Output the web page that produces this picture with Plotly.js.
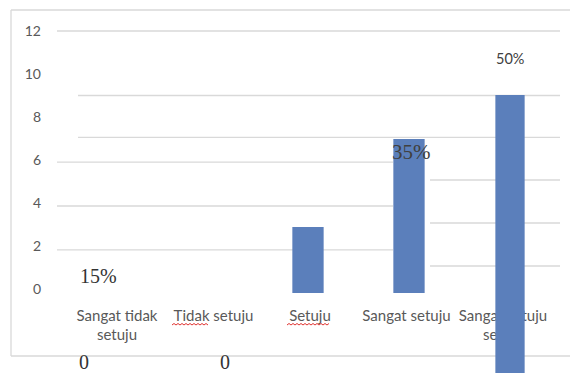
<!DOCTYPE html>
<html>
<head>
<meta charset="utf-8">
<script src="https://cdn.plot.ly/plotly-3.0.1.min.js"></script>
<style>
  html, body { margin: 0; padding: 0; background: #fff; }
  #chart { width: 570px; height: 373px; }
</style>
</head>
<body>
<div id="chart"></div>
<script>
// Survey answers and their counts
const categories = ['Sangat tidak<br>setuju', 'Tidak setuju', 'Setuju', 'Sangat setuju', 'Sangat setuju<br>setuju'];
const counts = [0, 0, 3, 7, 9];
// part of the last bar that runs below the baseline
const spill = [0, 0, 0, 0, -4.5];
const percentLabels = ['0', '0', '15%', '35%', '50%'];
const yTicks = [0, 2, 4, 6, 8, 10, 12];

const W = 570, H = 373, L = 57, R = 10;
const plotW = W - L - R;
const px = x => (x - L) / plotW;      // pixel column -> paper x
const py = y => 1 - y / H;            // pixel row -> paper y

const idx = categories.map((_, i) => i);
const barColor = '#5b7fbb';
const grid = '#d9d9d9';
const textGrey = '#595959';
const sans = 'Lato, "Open Sans", sans-serif';
const serif = '"Liberation Serif", "DejaVu Serif", serif';
const barWidths = [0.31, 0.31, 0.31, 0.31, 0.29];

// category names sit under the bars layer so the last bar can overlap them
const labelTrace = {
  x: idx, y: idx.map(() => -0.95),
  xaxis: 'x', yaxis: 'y',
  mode: 'text', type: 'scatter',
  text: categories, textposition: 'bottom center',
  textfont: { family: sans, size: 15, color: textGrey },
  hoverinfo: 'skip', showlegend: false, cliponaxis: false
};

const barTrace = {
  x: idx, y: counts, type: 'bar',
  xaxis: 'x2', yaxis: 'y2',
  marker: { color: barColor, line: { width: 0 } }, width: barWidths,
  hoverinfo: 'x+y', showlegend: false
};

const spillTrace = {
  x: idx, y: spill, type: 'bar',
  xaxis: 'x2', yaxis: 'y2',
  marker: { color: barColor, line: { width: 0 } }, width: barWidths,
  hoverinfo: 'skip', showlegend: false
};

const yRange = [-3.907, 13.442];
const barRange = [-3.636, 13.318];

const shapes = [];
function hline(x0, x1, yv) {
  shapes.push({ type: 'line', layer: 'below', xref: 'paper', yref: 'y',
    x0: px(x0), x1: px(x1), y0: yv, y1: yv, line: { color: grid, width: 1.3 } });
}
function frame(x0, y0, x1, y1) {
  shapes.push({ type: 'line', layer: 'below', xref: 'paper', yref: 'paper',
    x0: px(x0), x1: px(x1), y0: py(y0), y1: py(y1), line: { color: grid, width: 1.3 } });
}
// outer chart frame
frame(11, 10, 570, 10);
frame(11, 10, 11, 356);
frame(11, 356, 570, 356);
// gridlines
hline(57, 560, 12);
hline(78, 560, 9);
hline(78, 560, 7.05);
hline(57, 393, 5.9);
hline(57, 393, 3.86);
hline(57, 393, 1.82);
hline(430, 560, 5.07);
hline(430, 560, 3.07);
hline(430, 560, 1.07);

// red spell-check squiggles under two labels
function squiggle(x0, x1, yPix) {
  let d = 'M0,0';
  for (let x = 2, up = true; x <= x1 - x0; x += 2, up = !up) d += ' L' + x + ',' + (up ? 1.5 : 0);
  shapes.push({ type: 'path', layer: 'above', xref: 'paper', yref: 'paper',
    xsizemode: 'pixel', ysizemode: 'pixel', xanchor: px(x0), yanchor: py(yPix),
    path: d, line: { color: '#e0332f', width: 1 } });
}
squiggle(172, 208, 325);
squiggle(287, 330, 325);

const ann = (text, x, y, font) => ({
  text, xref: 'paper', yref: 'paper', x: px(x), y: py(y),
  xanchor: 'center', yanchor: 'middle', showarrow: false, font
});
const serifFont = { family: serif, size: 20, color: '#333333' };
const annotations = [
  ann(percentLabels[0], 84, 362, serifFont),
  ann(percentLabels[1], 225, 362, serifFont),
  ann(percentLabels[2], 98, 276, serifFont),
  ann(percentLabels[3], 411, 152, { family: serif, size: 21, color: '#404040' }),
  ann(percentLabels[4], 510, 58, { family: sans, size: 14.5, color: '#404040' })
];

const layout = {
  width: W, height: H,
  margin: { l: L, r: R, t: 0, b: 0, pad: 0 },
  paper_bgcolor: '#ffffff', plot_bgcolor: 'rgba(0,0,0,0)',
  barmode: 'overlay', showlegend: false,
  xaxis: { range: [-0.622, 4.591], visible: false, fixedrange: true },
  yaxis: {
    range: yRange, tickvals: yTicks, ticktext: yTicks.map(String),
    showgrid: false, zeroline: false, showline: false, ticks: '',
    ticklabelstandoff: 15,
    tickfont: { family: sans, size: 14, color: textGrey }, fixedrange: true
  },
  xaxis2: { overlaying: 'x', range: [-0.485, 4.495], visible: false, fixedrange: true },
  yaxis2: { overlaying: 'y', range: barRange, visible: false, fixedrange: true },
  shapes, annotations
};

Plotly.newPlot('chart', [labelTrace, barTrace, spillTrace], layout, { displayModeBar: false, staticPlot: true });
</script>
</body>
</html>
